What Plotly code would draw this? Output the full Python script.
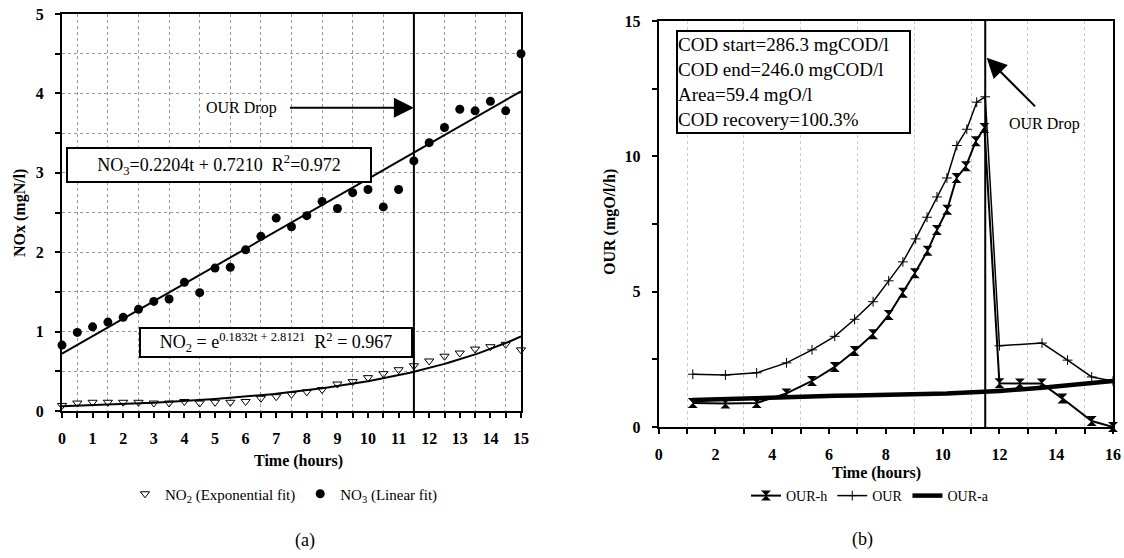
import numpy as np
import plotly.graph_objects as go

FONT = "Liberation Serif"

# ---------------- Panel (a) data ----------------
t_a = [0, 0.5, 1, 1.5, 2, 2.5, 3, 3.5, 4, 4.5, 5, 5.5, 6, 6.5, 7, 7.5, 8, 8.5,
       9, 9.5, 10, 10.5, 11, 11.5, 12, 12.5, 13, 13.5, 14, 14.5, 15]
no3 = [0.83, 0.99, 1.06, 1.12, 1.18, 1.28, 1.38, 1.41, 1.62, 1.49, 1.80, 1.81,
       2.03, 2.20, 2.43, 2.32, 2.46, 2.64, 2.55, 2.75, 2.79, 2.57, 2.79, 3.15,
       3.38, 3.57, 3.80, 3.78, 3.90, 3.78, 4.50]
no2 = [0.07, 0.10, 0.11, 0.11, 0.11, 0.11, 0.10, 0.10, 0.12, 0.10, 0.11, 0.11,
       0.12, 0.16, 0.18, 0.21, 0.24, 0.27, 0.34, 0.37, 0.42, 0.47, 0.52, 0.57,
       0.63, 0.69, 0.73, 0.78, 0.81, 0.84, 0.77]
# fit coefficients printed on the chart
NO3_SLOPE, NO3_INTERCEPT = 0.2204, 0.7210
NO2_RATE, NO2_LOGC = 0.1832, -2.8121
OUR_DROP_T = 11.5

x_ticks_a = [i * 0.5 for i in range(31)]
x_text_a = [f"<b>{int(v)}</b>" if v == int(v) else "" for v in x_ticks_a]
y_ticks_a = [i * 0.5 for i in range(11)]
y_text_a = [f"<b>{int(v)}</b>" if v == int(v) else "" for v in y_ticks_a]

# ---------------- Panel (b) data ----------------
t_our = [1.2, 2.35, 3.45, 4.5, 5.4, 6.2, 6.9, 7.55, 8.1, 8.6, 9.05, 9.45, 9.8,
         10.15, 10.5, 10.85, 11.2, 11.5, 12.0, 13.5, 14.4, 15.25, 16.0]
our = [1.95, 1.92, 2.0, 2.37, 2.85, 3.35, 3.98, 4.63, 5.4, 6.1, 6.95, 7.75, 8.5,
       9.2, 10.4, 11.0, 12.0, 12.2, 3.0, 3.1, 2.47, 1.85, 1.70]
t_ourh = [1.2, 2.35, 3.45, 4.5, 5.4, 6.2, 6.9, 7.55, 8.1, 8.6, 9.02, 9.47, 9.8,
          10.16, 10.49, 10.82, 11.17, 11.47, 12.0, 12.72, 13.49, 14.22, 15.25, 16.0]
our_h = [0.89, 0.87, 0.89, 1.24, 1.70, 2.22, 2.81, 3.43, 4.14, 4.96, 5.68, 6.51,
         7.28, 8.03, 9.2, 9.63, 10.56, 11.05, 1.62, 1.61, 1.61, 1.05, 0.22, 0.0]
t_oura = [1.2, 2.35, 3.45, 4.5, 5.4, 6.2, 6.9, 7.55, 8.1, 8.6, 9.05, 9.45, 9.8,
          10.15, 10.5, 10.85, 11.2, 11.5, 12.0, 13.5, 15.25, 16.0]
our_a = [1.0, 1.04, 1.08, 1.12, 1.14, 1.15, 1.16, 1.17, 1.18, 1.19, 1.21, 1.22,
         1.23, 1.24, 1.26, 1.27, 1.29, 1.30, 1.33, 1.45, 1.62, 1.70]

x_ticks_b = list(range(17))
x_text_b = [f"<b>{v}</b>" if v % 2 == 0 else "" for v in x_ticks_b]
y_ticks_b = [i * 2.5 for i in range(7)]
y_text_b = [f"<b>{int(v)}</b>" if v % 5 == 0 else "" for v in y_ticks_b]

fig = go.Figure()

# fits (a)
tf = np.linspace(0, 15, 121)
fig.add_trace(go.Scatter(x=tf, y=NO3_SLOPE * tf + NO3_INTERCEPT, mode="lines",
                         line=dict(color="black", width=2), showlegend=False,
                         xaxis="x", yaxis="y"))
fig.add_trace(go.Scatter(x=tf, y=np.exp(NO2_RATE * tf + NO2_LOGC), mode="lines",
                         line=dict(color="black", width=2), showlegend=False,
                         xaxis="x", yaxis="y"))
fig.add_trace(go.Scatter(x=t_a, y=no2, mode="markers",
                         name="NO<sub>2</sub> (Exponential fit)",
                         marker=dict(symbol="triangle-down-open", size=8,
                                     color="black", line=dict(width=1)),
                         cliponaxis=False, legend="legend", xaxis="x", yaxis="y"))
fig.add_trace(go.Scatter(x=t_a, y=no3, mode="markers",
                         name="NO<sub>3</sub> (Linear fit)",
                         marker=dict(symbol="circle", size=9, color="black"),
                         cliponaxis=False, legend="legend", xaxis="x", yaxis="y"))

# panel (b)
fig.add_trace(go.Scatter(x=t_ourh, y=our_h, mode="lines+markers", name="OUR-h",
                         line=dict(color="black", width=2),
                         marker=dict(symbol="hourglass", size=10, color="black"),
                         cliponaxis=False, legend="legend2", xaxis="x2", yaxis="y2"))
fig.add_trace(go.Scatter(x=t_our, y=our, mode="lines+markers", name="OUR",
                         line=dict(color="black", width=1.5),
                         marker=dict(symbol="cross-thin", size=7,
                                     line=dict(width=1, color="black")),
                         legend="legend2", xaxis="x2", yaxis="y2"))
fig.add_trace(go.Scatter(x=t_oura, y=our_a, mode="lines", name="OUR-a",
                         line=dict(color="black", width=4.5),
                         legend="legend2", xaxis="x2", yaxis="y2"))

tickfont = dict(family=FONT, size=16, color="black")
common = dict(showline=True, linecolor="black", linewidth=2, mirror=True,
              ticks="outside", ticklen=5, tickwidth=2, tickcolor="black",
              tickfont=tickfont, zeroline=False, fixedrange=True,
              automargin=False, ticklabeloverflow="allow")

fig.update_layout(
    width=1124, height=558,
    margin=dict(l=0, r=0, t=0, b=0, pad=0, autoexpand=False),
    paper_bgcolor="white", plot_bgcolor="white",
    font=dict(family=FONT, color="black"),
    xaxis=dict(domain=[62 / 1124, 521 / 1124], range=[0, 15],
               tickmode="array", tickvals=x_ticks_a, ticktext=x_text_a,
               showgrid=False, ticklabelstandoff=7,
               minor=dict(tick0=0.5, dtick=1, showgrid=True, gridcolor="#999",
                          griddash="dot", gridwidth=1, ticks=""),
               anchor="y", **common),
    yaxis=dict(domain=[(558 - 411) / 558, (558 - 14) / 558], range=[0, 5],
               tickmode="array", tickvals=y_ticks_a, ticktext=y_text_a,
               showgrid=True, gridcolor="#999", griddash="dot", gridwidth=1,
               ticklabelstandoff=8, anchor="x", **common),
    xaxis2=dict(domain=[658.7 / 1124, 1113 / 1124], range=[0, 16],
                tickmode="array", tickvals=x_ticks_b, ticktext=x_text_b,
                showgrid=False, ticklabelstandoff=7,
                minor=dict(tick0=1, dtick=2, showgrid=True, gridcolor="#ccc",
                           griddash="dot", gridwidth=1, ticks=""),
                anchor="y2", **common),
    yaxis2=dict(domain=[(558 - 427) / 558, (558 - 21) / 558], range=[0, 15],
                tickmode="array", tickvals=y_ticks_b, ticktext=y_text_b,
                showgrid=False, ticklabelstandoff=8, anchor="x2", **common),
    legend=dict(orientation="h", x=284 / 1124, y=(558 - 494) / 558,
                xanchor="center", yanchor="middle",
                font=dict(family=FONT, size=15, color="black"),
                bgcolor="rgba(0,0,0,0)", itemwidth=30, tracegroupgap=0),
    legend2=dict(orientation="h", x=870 / 1124, y=(558 - 496) / 558,
                 xanchor="center", yanchor="middle",
                 font=dict(family=FONT, size=14, color="black"),
                 bgcolor="rgba(0,0,0,0)", itemwidth=30),
    showlegend=True,
)

fig.add_shape(type="line", xref="x", yref="y domain", x0=OUR_DROP_T, x1=OUR_DROP_T,
              y0=0, y1=1, line=dict(color="black", width=2))
fig.add_shape(type="line", xref="x2", yref="y2 domain", x0=OUR_DROP_T, x1=OUR_DROP_T,
              y0=0, y1=1, line=dict(color="black", width=2))

C = dict(xanchor="center", yanchor="middle", showarrow=False)
ann = []
# axis titles
ann.append(dict(text="<b>NOx (mgN/l)</b>", x=20 / 1124, y=(558 - 213) / 558,
                xref="paper", yref="paper", textangle=-90,
                font=dict(family=FONT, size=16), **C))
ann.append(dict(text="<b>Time (hours)</b>", x=298 / 1124, y=(558 - 461) / 558,
                xref="paper", yref="paper",
                font=dict(family=FONT, size=16), **C))
ann.append(dict(text="(a)", x=305 / 1124, y=(558 - 540) / 558,
                xref="paper", yref="paper",
                font=dict(family=FONT, size=18), **C))
ann.append(dict(text="<b>OUR (mgO/l/h)</b>", x=610 / 1124, y=(558 - 222) / 558,
                xref="paper", yref="paper", textangle=-90,
                font=dict(family=FONT, size=16), **C))
ann.append(dict(text="<b>Time (hours)</b>", x=876 / 1124, y=(558 - 473) / 558,
                xref="paper", yref="paper",
                font=dict(family=FONT, size=16), **C))
ann.append(dict(text="(b)", x=862 / 1124, y=(558 - 539) / 558,
                xref="paper", yref="paper",
                font=dict(family=FONT, size=18), **C))
# equation boxes (a)
ann.append(dict(text="NO<sub>3</sub>=0.2204t + 0.7210  R<sup>2</sup>=0.972",
                x=5.13, y=3.10, xref="x", yref="y",
                bgcolor="white", bordercolor="black", borderwidth=2, borderpad=0,
                width=302, height=32, font=dict(family=FONT, size=18), **C))
ann.append(dict(text="NO<sub>2</sub> = e<sup>0.1832t + 2.8121</sup>  R<sup>2</sup> = 0.967",
                x=6.99, y=0.86, xref="x", yref="y",
                bgcolor="white", bordercolor="black", borderwidth=2, borderpad=0,
                width=270, height=27, font=dict(family=FONT, size=18), **C))
# OUR drop (a)
ann.append(dict(text="OUR Drop", x=5.88, y=3.82, xref="x", yref="y",
                font=dict(family=FONT, size=16), **C))
ann.append(dict(text="", x=OUR_DROP_T, y=3.82, ax=7.4, ay=3.82, xref="x", yref="y",
                axref="x", ayref="y", showarrow=True, arrowhead=2, arrowsize=2.0,
                arrowwidth=2, arrowcolor="black"))
# panel (b) info box
ann.append(dict(text="COD start=286.3 mgCOD/l<br>COD end=246.0 mgCOD/l<br>"
                     "Area=59.4 mgO/l<br>COD recovery=100.3%",
                x=4.75, y=12.73, xref="x2", yref="y2", showarrow=False,
                xanchor="center", yanchor="middle",
                align="left", bgcolor="white", bordercolor="black", borderwidth=2,
                borderpad=0, width=231, height=100,
                font=dict(family=FONT, size=19)))
ann.append(dict(text="OUR Drop", x=13.57, y=11.21, xref="x2", yref="y2",
                font=dict(family=FONT, size=16), **C))
ann.append(dict(text="", x=11.55, y=13.64, ax=13.31, ay=11.79, xref="x2", yref="y2",
                axref="x2", ayref="y2", showarrow=True, arrowhead=2, arrowsize=2.0,
                arrowwidth=2, arrowcolor="black"))
fig.update_layout(annotations=ann)

fig.write_html("out.html",
               config={"displayModeBar": False},
               post_script="document.body.style.margin='0px';"
                           "document.body.style.overflow='hidden';")
